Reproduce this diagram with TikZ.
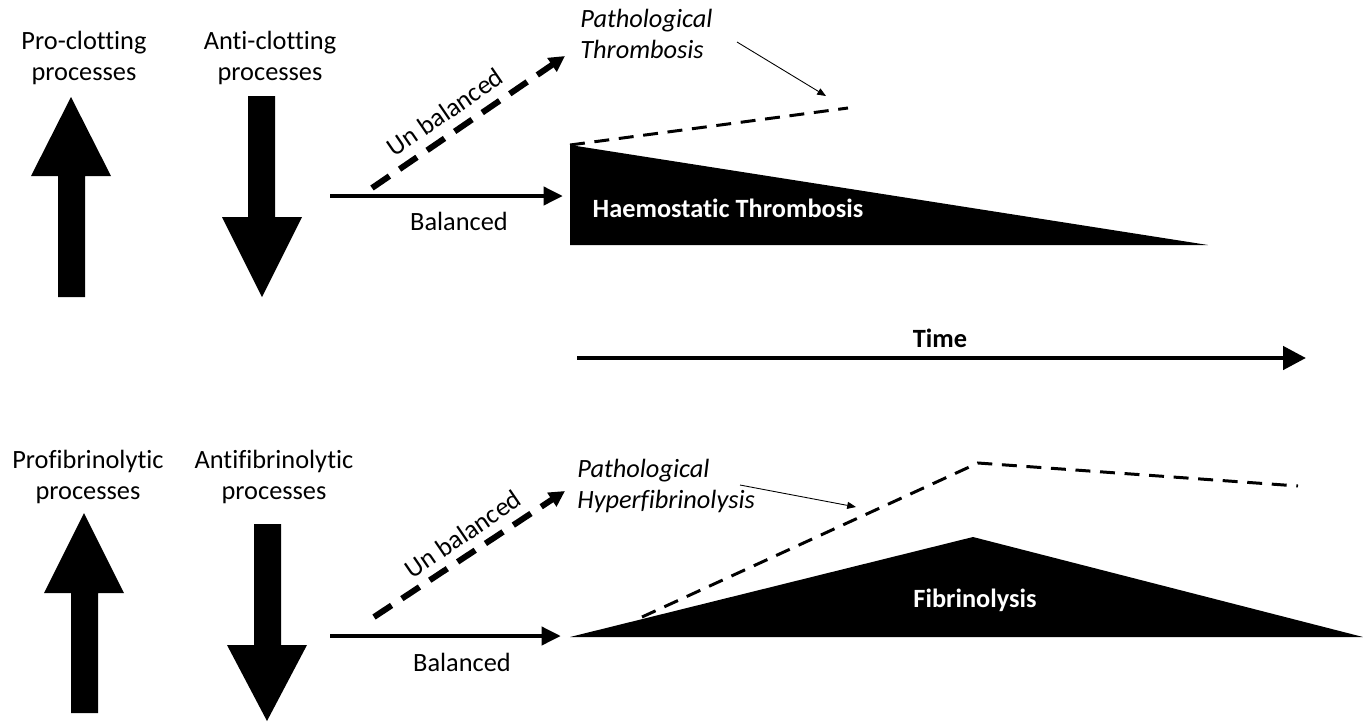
\documentclass[tikz,border=0pt]{standalone}
\usepackage{fontspec}
\setmainfont{Carlito}[Ligatures=NoCommon]
\usetikzlibrary{arrows.meta}
\begin{document}
\begin{tikzpicture}[x=0.02cm,y=-0.02cm,
  lbl/.style={font=\fontsize{15}{18}\selectfont, align=center, inner sep=0pt},
  ilbl/.style={font=\fontsize{15}{18}\selectfont\itshape, align=left, inner sep=0pt},
  wlbl/.style={font=\fontsize{15}{18}\selectfont\bfseries, text=white, inner sep=0pt},
  blockarrow/.style={fill=black},
  solidarrow/.style={line width=2.8pt, -{Triangle[length=11pt,width=10pt]}},
  ubarrow/.style={line width=3.4pt, dash pattern=on 12pt off 7pt, -{Triangle[length=9pt,width=9pt]}},
  thinarrow/.style={line width=0.5pt, -{Triangle[length=5pt,width=4pt]}},
  pathline/.style={line width=1.7pt, dash pattern=on 8.5pt off 5.5pt},
  timearrow/.style={line width=2.6pt, -{Triangle[length=13pt,width=13pt]}}]
\useasboundingbox (0,0) rectangle (1363,721);

% ---------- top: clotting ----------
\node[lbl] (pro) at (84,58) {Pro-clotting\\processes};
\node[lbl] (anti) at (270,58) {Anti-clotting\\processes};
\fill[blockarrow] (58,297) -- (58,176) -- (31,176) -- (71,97) -- (111,176) -- (85,176) -- (85,297) -- cycle;
\fill[blockarrow] (248,96) -- (248,217) -- (222,217) -- (262,297) -- (302,217) -- (275,217) -- (275,96) -- cycle;

\coordinate (b1s) at (330,196);
\coordinate (b1e) at (563,196);
\draw[solidarrow] (b1s) -- (b1e);
\node[lbl] (bal1) at (459,221) {Balanced};

\coordinate (u1s) at (372,188);
\coordinate (u1e) at (565,56);
\draw[ubarrow] (u1s) -- (u1e);
\node[lbl, rotate=34.4] (ub1) at (445,112) {Un balanced};

\node[ilbl, anchor=west] (pt) at (580,34) {Pathological\\Thrombosis};
\coordinate (pt1) at (737,42);
\coordinate (pt2) at (826,96);
\draw[thinarrow] (pt1) -- (pt2);

\coordinate (ht1) at (570,145);
\coordinate (ht2) at (570,245);
\coordinate (ht3) at (1208,245);
\fill (ht1) -- (ht2) -- (ht3) -- cycle;
\coordinate (pd1) at (848,108);
\draw[pathline] (ht1) -- (pd1);
\node[wlbl] (haem) at (728,208) {Haemostatic Thrombosis};

% ---------- time ----------
\coordinate (t1) at (577,358);
\coordinate (t2) at (1306,358);
\draw[timearrow] (t1) -- (t2);
\node[wlbl, text=black] (time) at (940,338) {Time};

% ---------- bottom: fibrinolysis ----------
\node[lbl] (profib) at (88,477) {Profibrinolytic\\processes};
\node[lbl] (antifib) at (274,477) {Antifibrinolytic\\processes};
\fill[blockarrow] (71,713) -- (71,593) -- (44,593) -- (84,513) -- (124,593) -- (98,593) -- (98,713) -- cycle;
\fill[blockarrow] (254,524) -- (254,645) -- (227,645) -- (267,721) -- (307,645) -- (281,645) -- (281,524) -- cycle;

\coordinate (b2s) at (330,636);
\coordinate (b2e) at (561,636);
\draw[solidarrow] (b2s) -- (b2e);
\node[lbl] (bal2) at (462,662) {Balanced};

\coordinate (u2s) at (374,617);
\coordinate (u2e) at (565,491);
\draw[ubarrow] (u2s) -- (u2e);
\node[lbl, rotate=34.4] (ub2) at (463,534) {Un balanced};

\node[ilbl, anchor=west] (ph) at (577,486) {Pathological\\Hyperfibrinolysis};
\coordinate (ph1) at (740,485);
\coordinate (ph2) at (856,507);
\draw[thinarrow] (ph1) -- (ph2);

\coordinate (f1) at (570,637);
\coordinate (f2) at (973,537);
\coordinate (f3) at (1363,637);
\fill (f1) -- (f2) -- (f3) -- cycle;
\node[wlbl] (fib) at (975,600) {Fibrinolysis};

\coordinate (d1) at (642,617);
\coordinate (d2) at (978,463);
\coordinate (d3) at (1298,486);
\draw[pathline] (d1) -- (d2) -- (d3);
\end{tikzpicture}
\end{document}
